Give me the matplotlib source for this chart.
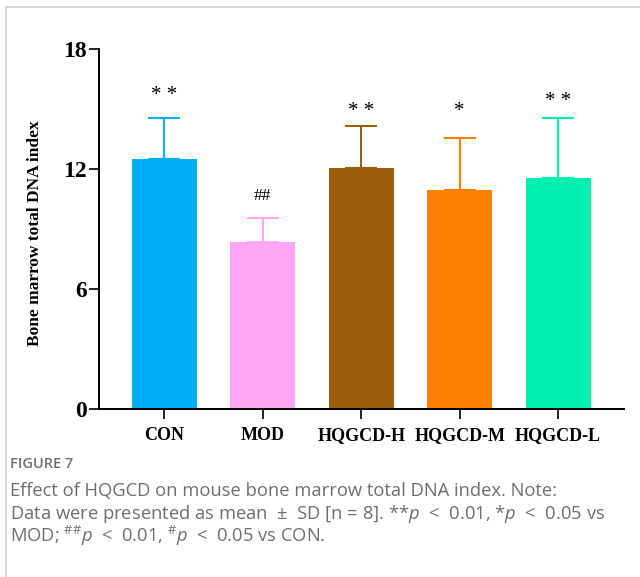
import matplotlib
matplotlib.use("Agg")
import matplotlib.pyplot as plt
from matplotlib.lines import Line2D

# ---- data ----
groups = ['CON', 'MOD', 'HQGCD-H', 'HQGCD-M', 'HQGCD-L']
means = [12.5, 8.33, 12.03, 10.95, 11.55]
sds = [2.07, 1.24, 2.12, 2.6, 3.02]
marks = ['* *', '##', '* *', '*', '* *']
mark_y = [15.65, 10.65, 14.9, 14.85, 15.4]
colors = ['#00AFF5', '#FFA6F8', '#9C5D0E', '#FF7F00', '#00EFB0']
yticks = [0, 6, 12, 18]

serif = 'Liberation Serif'
sans = 'Open Sans'
plt.rcParams['mathtext.fontset'] = 'custom'
plt.rcParams['mathtext.rm'] = sans
plt.rcParams['mathtext.it'] = sans + ':italic'

fig = plt.figure(figsize=(6.4, 5.77), dpi=100)
W, H = 640, 577

# panel border (top and left only)
fig.add_artist(Line2D([6 / W, 1], [1 - 7 / H, 1 - 7 / H], color='#d4d4d4', lw=1.3))
fig.add_artist(Line2D([6 / W, 6 / W], [0, 1 - 7 / H], color='#d4d4d4', lw=1.3))

ax = fig.add_axes([99 / W, 1 - 409 / H, 525 / W, 360 / H])
x = range(len(groups))

# bars
ax.bar(x, means, width=0.66, color=colors, zorder=2)

# upper error bars only
for i in x:
    ax.errorbar(i, means[i], yerr=[[0], [sds[i]]], fmt='none', ecolor=colors[i],
                elinewidth=1.5, capsize=11.5, capthick=1.5, zorder=1)
    ax.text(i, mark_y[i], marks[i], ha='center', va='center',
            fontfamily=serif, fontsize=15 if '*' in marks[i] else 12.5)

ax.set_xlim(-0.665, 4.67)
ax.set_ylim(0, 18)
ax.set_yticks(yticks)
ax.set_xticks(list(x))
ax.set_xticklabels(groups)

for s in ['top', 'right']:
    ax.spines[s].set_visible(False)
for s in ['left', 'bottom']:
    ax.spines[s].set_linewidth(1.4)

ax.tick_params(axis='y', direction='out', length=7, width=1.2, pad=2)
ax.tick_params(axis='x', direction='out', length=7, width=1.2, pad=6)
for lab in ax.get_yticklabels():
    lab.set_fontfamily(serif)
    lab.set_fontweight('bold')
    lab.set_fontsize(17)
for lab in ax.get_xticklabels():
    lab.set_fontfamily(serif)
    lab.set_fontweight('bold')
    lab.set_fontsize(13)

fig.text(35 / W, 1 - 233 / H, 'Bone marrow total DNA index', rotation=90,
         ha='center', va='center', fontfamily=serif, fontweight='bold', fontsize=12.5)

# caption
fig.text(10 / W, 1 - 468 / H, 'FIGURE 7', fontfamily=sans, fontsize=10.5,
         color='#6e6e6e', fontweight='semibold', va='baseline')
cap_lines = [
    'Effect of HQGCD on mouse bone marrow total DNA index. Note:',
    r'Data were presented as mean  ±  SD [n = 8]. **$\mathit{p}$  <  0.01, *$\mathit{p}$  <  0.05 vs',
    r'MOD; $^{\#\#}\mathit{p}$  <  0.01, $^{\#}\mathit{p}$  <  0.05 vs CON.',
]
for k, line in enumerate(cap_lines):
    fig.text(10 / W, 1 - (496 + 23 * k) / H, line, fontfamily=sans, fontsize=13.2,
             color='#6e6e6e', va='baseline')

fig.savefig('out.png', dpi=100)
